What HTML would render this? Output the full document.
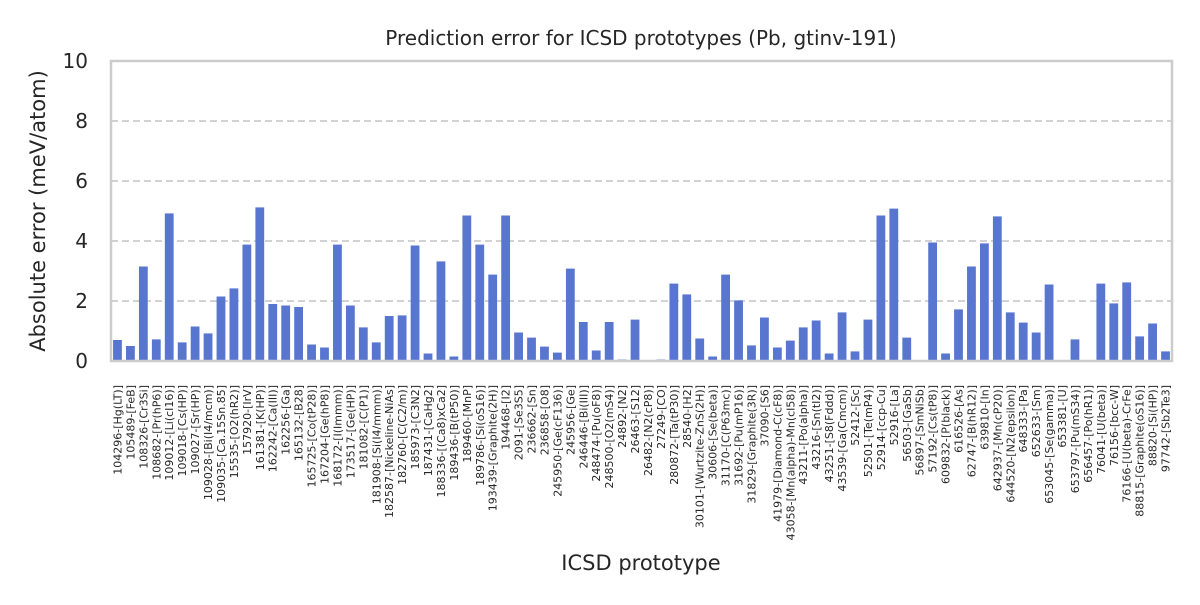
<!DOCTYPE html>
<html><head><meta charset="utf-8"><style>
body{margin:0;background:#fff;font-family:"Liberation Sans","DejaVu Sans",sans-serif}
svg text{font-family:"DejaVu Sans","Liberation Sans",sans-serif;fill:#262626}
</style></head><body>
<svg id="chart" width="1200" height="600" viewBox="0 0 1200 600" xmlns="http://www.w3.org/2000/svg">
<rect width="1200" height="600" fill="#fff"/>
<text x="641" y="45" font-size="20" text-anchor="middle">Prediction error for ICSD prototypes (Pb, gtinv-191)</text>
<g id="grid"></g>
<g id="bars"></g>
<rect x="111" y="61" width="1061" height="300" fill="none" stroke="#cccccc" stroke-width="2.5"/>
<g id="yticks"></g>
<g id="xticks"></g>
<text transform="translate(45,211) rotate(-90)" font-size="21" text-anchor="middle">Absolute error (meV/atom)</text>
<text x="641" y="570" font-size="21" text-anchor="middle">ICSD prototype</text>
</svg>
<script>
const categories=["104296-[Hg(LT)]","105489-[FeB]","108326-[Cr3Si]","108682-[Pr(hP6)]","109012-[Li(cI16)]","109018-[Cs(HP)]","109027-[Sr(HP)]","109028-[Bi(I4/mcm)]","109035-[Ca.15Sn.85]","15535-[O2(hR2)]","157920-[IrV]","161381-[K(HP)]","162242-[Ca(III)]","162256-[Ga]","165132-[B28]","165725-[Co(tP28)]","167204-[Ge(hP8)]","168172-[I(Immm)]","173517-[Ge(HP)]","181082-[C(P1)]","181908-[Si(I4/mmm)]","182587-[Nickeline-NiAs]","182760-[C(C2/m)]","185973-[C3N2]","187431-[CaHg2]","188336-[(Ca8)xCa2]","189436-[B(tP50)]","189460-[MnP]","189786-[Si(oS16)]","193439-[Graphite(2H)]","194468-[I2]","2091-[Se3S5]","236662-[Sn]","236858-[O8]","245950-[Ge(cF136)]","245956-[Ge]","246446-[Bi(III)]","248474-[Pu(oF8)]","248500-[O2(mS4)]","24892-[N2]","26463-[S12]","26482-[N2(cP8)]","27249-[CO]","280872-[Ta(tP30)]","28540-[H2]","30101-[Wurtzite-ZnS(2H)]","30606-[Se(beta)]","31170-[C(P63mc)]","31692-[Pu(mP16)]","31829-[Graphite(3R)]","37090-[S6]","41979-[Diamond-C(cF8)]","43058-[Mn(alpha)-Mn(cI58)]","43211-[Po(alpha)]","43216-[Sn(tI2)]","43251-[S8(Fddd)]","43539-[Ga(Cmcm)]","52412-[Sc]","52501-[Te(mP4)]","52914-[ccp-Cu]","52916-[La]","56503-[GaSb]","56897-[SmNiSb]","57192-[Cs(tP8)]","609832-[P(black)]","616526-[As]","62747-[B(hR12)]","639810-[In]","642937-[Mn(cP20)]","644520-[N2(epsilon)]","648333-[Pa]","652633-[Sm]","653045-[Se(gamma)]","653381-[U]","653797-[Pu(mS34)]","656457-[Po(hR1)]","76041-[U(beta)]","76156-[bcc-W]","76166-[U(beta)-CrFe]","88815-[Graphite(oS16)]","88820-[Si(HP)]","97742-[Sb2Te3]"];
const errors=[0.7,0.5,3.15,0.72,4.92,0.62,1.15,0.92,2.15,2.42,3.88,5.12,1.9,1.85,1.8,0.55,0.45,3.88,1.85,1.12,0.62,1.5,1.52,3.85,0.25,3.32,0.15,4.85,3.88,2.88,4.85,0.95,0.78,0.48,0.28,3.08,1.3,0.35,1.3,0.05,1.38,0.02,0.05,2.58,2.22,0.75,0.15,2.88,2.02,0.52,1.45,0.45,0.68,1.12,1.35,0.25,1.62,0.32,1.38,4.85,5.08,0.78,0.02,3.95,0.25,1.72,3.15,3.92,4.82,1.62,1.28,0.95,2.55,0.02,0.72,0.02,2.58,1.92,2.62,0.82,1.25,0.32];
const yTicks=[0,2,4,6,8,10];
const NS="http://www.w3.org/2000/svg";
const X0=111,X1=1172,Y0=361,Y1=61,YMAX=10;
const step=(X1-X0)/categories.length;
function xc(i){return X0+step*(i+0.5);}
function y(v){return Y0-(v/YMAX)*(Y0-Y1);}
function mk(t,a,p){const e=document.createElementNS(NS,t);for(const k in a)e.setAttribute(k,a[k]);p.appendChild(e);return e;}
const grid=document.getElementById('grid'),bars=document.getElementById('bars'),yt=document.getElementById('yticks'),xt=document.getElementById('xticks');
yTicks.forEach(t=>{
  if(t>0&&t<YMAX){const l=mk('line',{x1:X0,x2:X1,y1:y(t),y2:y(t),stroke:'#cccccc','stroke-width':1.8,'stroke-dasharray':'7,4'},grid);
  
  }
  const tx=mk('text',{x:88,y:y(t)+7,'font-size':20,'text-anchor':'end'},yt);tx.textContent=t;
  
  
});
const bw=step*0.68;
categories.forEach((c,i)=>{
  const v=errors[i];
  const r=mk('rect',{x:xc(i)-bw/2,y:y(v),width:bw,height:Math.max(0,Y0-y(v)),fill:'#5875d0'},bars);
  
  
  const tx=mk('text',{transform:`translate(${xc(i)+4},${Y0+24}) rotate(-90)`,'font-size':11,'text-anchor':'end'},xt);
  tx.textContent=c;
  
  
});
</script>
</body></html>
